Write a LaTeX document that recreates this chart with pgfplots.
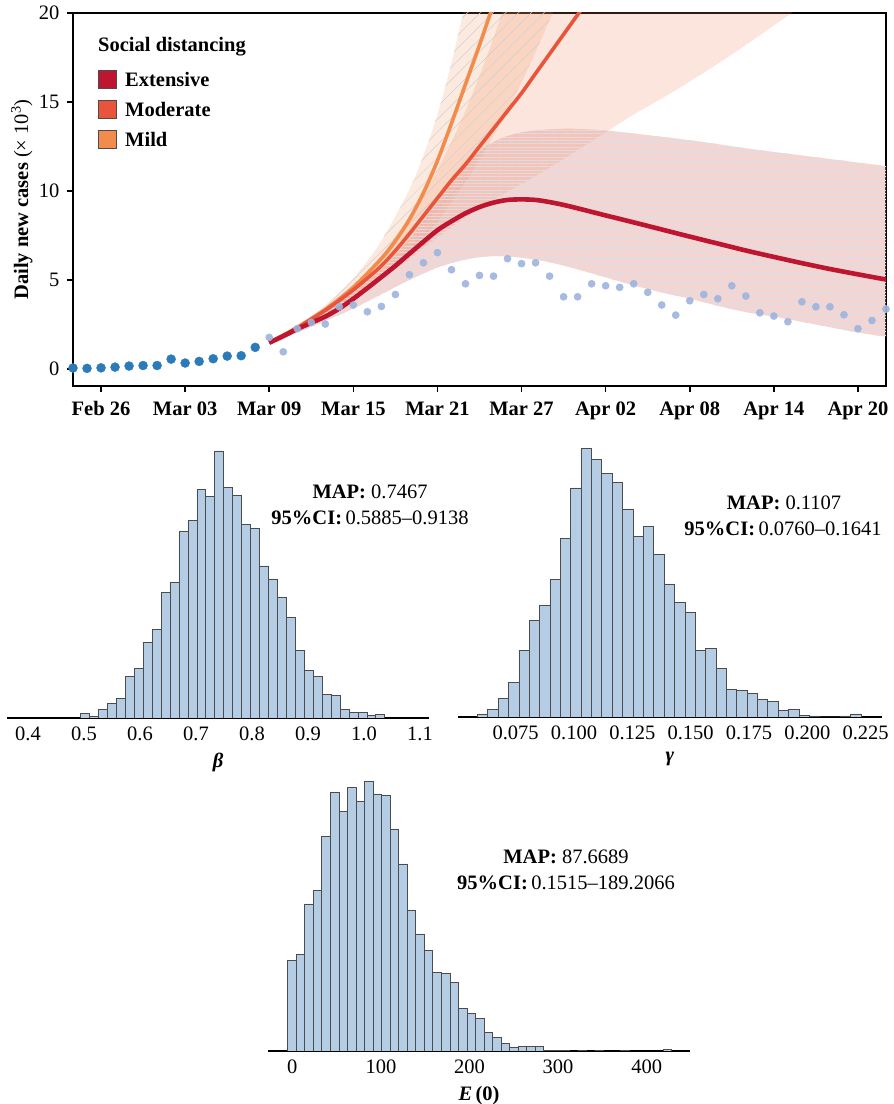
\documentclass[border=0pt]{standalone}
\usepackage{pgfplots}
\pgfplotsset{compat=1.18}
\usepgfplotslibrary{fillbetween}
\usetikzlibrary{patterns.meta}
\usepackage{fontspec}
\setmainfont{Liberation Serif}

\definecolor{cExt}{HTML}{BE1530}
\definecolor{cMod}{HTML}{E8553A}
\definecolor{cMild}{HTML}{F28B4B}
\definecolor{extBand}{HTML}{EE8877}
\definecolor{modBand}{HTML}{F07F52}
\definecolor{mildBand}{HTML}{F28B4B}
\definecolor{dotDark}{HTML}{2B7BBA}
\definecolor{dotLight}{HTML}{9DB4DE}
\definecolor{histFill}{HTML}{B4CDE4}
\definecolor{hatchH}{HTML}{D9DFE8}
\definecolor{hatchD}{HTML}{C9CFD8}

\newcommand\fs{\fontsize{20.5bp}{24bp}\selectfont}

\pgfplotsset{
  sqlegend/.style={legend image code/.code={\filldraw[##1,draw=black!70,line width=1bp] (0bp,-9bp) rectangle (18bp,9bp);}},
  hist/.style={
    scale only axis, anchor=south west, width=422bp, height=273bp,
    ymin=0, ymax=820, hide y axis, axis x line*=bottom,
    axis line style={line width=2bp, black},
    major tick length=0pt,
    /pgf/number format/assume math mode=true,
    tick label style={font=\fs},
    xticklabel style={yshift=-5bp},
    xlabel style={font=\fs, yshift=-6bp},
  },
  histbar/.style={ybar interval, fill=histFill, draw=black!70, line width=0.6bp},
}

\begin{document}
\begin{tikzpicture}

% ---- daily new cases with scenario projections ----
\begin{axis}[
  at={(73bp,718bp)}, anchor=south west,
  scale only axis, width=813bp, height=373bp,
  xmin=-2, xmax=56, ymin=-0.95, ymax=20,
  xtick={0,6,...,54},
  xticklabels={Feb 26,Mar 03,Mar 09,Mar 15,Mar 21,Mar 27,Apr 02,Apr 08,Apr 14,Apr 20},
  ytick={0,5,10,15,20},
  xtick pos=left, ytick pos=left, tick align=outside,
  major tick length=6bp,
  every tick/.style={black, line width=1.5bp},
  axis line style={line width=1.8bp},
  /pgf/number format/assume math mode=true,
  tick label style={font=\fs},
  x tick label style={font=\fs\bfseries, yshift=-6bp},
  y tick label style={xshift=-4bp},
  ylabel={\textbf{Daily new cases} (× 10\textsuperscript{3})},
  ylabel style={at={(axis description cs:-0.063,0.5)}, anchor=center, font=\fs},
  legend style={at={(axis description cs:0.0308,0.847)}, anchor=north west,
    draw=none, fill=none, font=\fs\bfseries, inner sep=0pt,
    nodes={inner sep=1bp}, row sep=11bp,
    /tikz/every odd column/.append style={column sep=7bp}},
  legend cell align=left,
]
% moderate band
\addplot[name path=modlo, draw=none, smooth, forget plot] coordinates {
 (12,1.45) (14,2.15) (16,2.95) (18,3.9) (20,5.0) (22,6.2) (24,7.4) (26,8.5)
 (28,9.5) (30,10.4) (32,11.3) (34,12.3) (36,13.3) (38,14.3) (40,15.2)
 (42,16.15) (44,17.15) (46,18.2) (48,19.3) (50,20.4) (52,21.6)};
\addplot[name path=modhi, draw=none, smooth, forget plot] coordinates {
 (12,1.55) (14,2.4) (16,3.4) (18,4.7) (20,6.4) (22,8.6) (24,11.2) (26,14.5)
 (28,18.6) (29,21.0)};
\addplot[fill=modBand, fill opacity=0.2, draw=none, forget plot] fill between[of=modlo and modhi];

% mild band
\addplot[name path=mildlo, draw=none, smooth, forget plot] coordinates {
 (12,1.42) (14,2.2) (16,3.05) (18,4.0) (20,5.1) (22,6.5) (24,8.3) (26,10.5)
 (28,13.1) (30,16.1) (32,19.6) (33,21.5)};
\addplot[name path=mildhi, draw=none, smooth, forget plot] coordinates {
 (12,1.6) (14,2.45) (16,3.6) (18,5.1) (20,7.2) (22,10.1) (23,12.0) (24,14.3)
 (25,17.2) (26,20.6) (26.5,22.5)};
\addplot[fill=mildBand, fill opacity=0.18, draw=none, forget plot] fill between[of=mildlo and mildhi];
\addplot[pattern={Lines[angle=45,distance=9bp,line width=0.5bp]}, pattern color=hatchD, draw=none, forget plot] fill between[of=mildlo and mildhi];

% extensive band
\addplot[name path=extlo, draw=none, smooth, forget plot] coordinates {
 (12,1.42) (14,2.05) (16,2.7) (18,3.4) (20,4.2) (22,5.0) (24,5.7) (26,6.15)
 (28,6.35) (30,6.25) (32,6.0) (34,5.6) (36,5.15) (38,4.7) (40,4.3) (42,3.95)
 (44,3.55) (46,3.2) (48,2.95) (50,2.65) (52,2.35) (54,2.05) (56,1.82)};
\addplot[name path=exthi, draw=none, smooth, forget plot] coordinates {
 (12,1.55) (14,2.35) (16,3.25) (18,4.3) (20,5.6) (22,7.3) (24,9.4) (26,11.5)
 (28,12.75) (30,13.3) (33,13.5) (36,13.4) (40,13.05) (43,12.75) (46,12.4)
 (50,12.0) (53,11.7) (56,11.4)};
\addplot[fill=extBand, fill opacity=0.36, draw=none, forget plot] fill between[of=extlo and exthi];
\addplot[pattern={Lines[angle=0,distance=3.3bp,line width=0.6bp]}, pattern color=hatchH, draw=none, forget plot] fill between[of=extlo and exthi];

% projections
\addplot[cMild, line width=3.6bp, smooth, forget plot] coordinates {
 (12,1.48) (14,2.35) (16,3.35) (18,4.6) (20,6.2) (21,7.2) (22,8.4) (23,9.9)
 (24,11.7) (25,13.8) (26,16.0) (27,18.2) (28,20.5)};
\addplot[cMod, line width=3.6bp, smooth, forget plot] coordinates {
 (12,1.48) (13,1.88) (14,2.3) (15,2.8) (16,3.3) (17,3.85) (18,4.45) (19,5.1)
 (20,5.8) (21,6.65) (22,7.6) (23,8.6) (24,9.6) (25,10.6) (26,11.5) (27,12.5)
 (28,13.5) (29,14.5) (30,15.5) (31,16.6) (32,17.7) (33,18.8) (34,19.9) (35,21.0)};
\addplot[cExt, line width=4.6bp, smooth, forget plot] coordinates {
 (12,1.48) (13,1.85) (14,2.25) (15,2.6) (16,2.95) (17,3.4) (18,3.95) (19,4.55)
 (20,5.17) (21,5.8) (22,6.48) (23,7.15) (24,7.8) (25,8.3) (26,8.75) (27,9.1)
 (28,9.35) (29,9.5) (30,9.53) (31,9.5) (32,9.38) (33,9.22) (34,9.03) (35,8.83)
 (36,8.63) (38,8.24) (40,7.84) (42,7.44) (44,7.05) (46,6.66) (48,6.3)
 (50,5.95) (52,5.62) (54,5.32) (56,5.03)};

% observed cases
\addplot[only marks, mark=*, mark size=4.5bp, color=dotDark, forget plot] coordinates {
 (-2,0.06) (-1,0.04) (0,0.07) (1,0.11) (2,0.17) (3,0.2) (4,0.2) (5,0.56)
 (6,0.34) (7,0.43) (8,0.58) (9,0.73) (10,0.75) (11,1.22)};
\addplot[only marks, mark=*, mark size=3.6bp, color=dotLight, opacity=0.9, forget plot] coordinates {
 (12,1.78) (13,0.97) (14,2.27) (15,2.62) (16,2.53) (17,3.5) (18,3.6) (19,3.22)
 (20,3.52) (21,4.19) (22,5.3) (23,5.97) (24,6.54) (25,5.58) (26,4.79) (27,5.26)
 (28,5.22) (29,6.2) (30,5.92) (31,5.97) (32,5.22) (33,4.06) (34,4.06) (35,4.79)
 (36,4.68) (37,4.59) (38,4.79) (39,4.31) (40,3.6) (41,3.03) (42,3.84) (43,4.19)
 (44,3.95) (45,4.68) (46,4.1) (47,3.16) (48,2.98) (49,2.66) (50,3.78) (51,3.5)
 (52,3.5) (53,3.05) (54,2.27) (55,2.73) (56,3.37)};

\addlegendimage{sqlegend, fill=cExt}
\addlegendentry{Extensive}
\addlegendimage{sqlegend, fill=cMod}
\addlegendentry{Moderate}
\addlegendimage{sqlegend, fill=cMild}
\addlegendentry{Mild}
\node[anchor=west, inner sep=0pt, font=\fs\bfseries] at (axis description cs:0.0308,0.909) {Social distancing};
\end{axis}

% ---- beta ----
\begin{axis}[hist, at={(7bp,386bp)},
  xmin=0.3625, xmax=1.116,
  xtick={0.4,0.5,0.6,0.7,0.8,0.9,1.0,1.1},
  xticklabel style={/pgf/number format/fixed, /pgf/number format/fixed zerofill, /pgf/number format/precision=1},
  xlabel={\textbf{\textit{β}}},
]
\addplot[histbar] coordinates {
 (0.4937,13) (0.5097,5) (0.5257,27) (0.5416,43) (0.5576,60) (0.5736,126)
 (0.5896,148) (0.6056,226) (0.6215,267) (0.6375,378) (0.6535,408) (0.6695,560)
 (0.6855,593) (0.7014,687) (0.7174,665) (0.7334,802) (0.7494,693) (0.7654,668)
 (0.7813,582) (0.7973,570) (0.8133,457) (0.8293,418) (0.8453,363) (0.8612,303)
 (0.8772,204) (0.8932,143) (0.9092,125) (0.9252,72) (0.9411,69) (0.9571,25)
 (0.9731,18) (0.9891,18) (1.0051,8) (1.0210,11) (1.0370,0)};
\end{axis}

% ---- gamma ----
\begin{axis}[hist, at={(458bp,387bp)}, width=424bp,
  xmin=0.0503, xmax=0.232,
  xtick={0.075,0.1,0.125,0.15,0.175,0.2,0.225},
  xticklabel style={/pgf/number format/fixed, /pgf/number format/fixed zerofill, /pgf/number format/precision=3},
  xlabel={\textbf{\textit{γ}}},
]
\addplot[histbar] coordinates {
 (0.0586,9) (0.0630,24) (0.0675,57) (0.0719,105) (0.0764,199) (0.0808,291)
 (0.0853,335) (0.0897,414) (0.0942,536) (0.0986,688) (0.1030,807) (0.1075,774)
 (0.1119,732) (0.1164,705) (0.1208,625) (0.1253,543) (0.1297,572) (0.1341,489)
 (0.1386,400) (0.1430,344) (0.1475,314) (0.1519,201) (0.1564,207) (0.1608,145)
 (0.1653,84) (0.1697,80) (0.1741,72) (0.1786,53) (0.1830,46) (0.1875,20)
 (0.1919,24) (0.1964,4) (0.2008,3) (0.2052,0) (0.2097,0) (0.2141,3)
 (0.2186,9) (0.2230,0)};
\end{axis}

% ---- E(0) ----
\begin{axis}[hist, at={(268bp,53bp)},
  xmin=-27.4, xmax=448.9,
  xtick={0,100,200,300,400},
  xlabel={\textbf{\textit{E}\,(0)}},
]
\addplot[histbar] coordinates {
 (-5.27,272) (4.37,291) (14.0,442) (23.64,482) (33.27,644) (42.91,777)
 (52.54,719) (62.18,792) (71.81,749) (81.45,810) (91.08,772) (100.72,769)
 (110.35,667) (119.99,562) (129.62,424) (139.26,352) (148.89,301) (158.53,235)
 (168.16,233) (177.80,206) (187.43,128) (197.07,114) (206.70,99) (216.34,55)
 (225.97,40) (235.61,24) (245.24,10) (254.88,13) (264.51,13) (274.15,13)
 (283.78,3) (293.42,3) (303.05,3) (312.69,0) (322.32,3) (331.96,0)
 (341.59,3) (351.23,0) (360.86,0) (370.50,2) (380.13,0) (389.77,0)
 (399.40,0) (409.04,0) (418.67,4) (428.31,0)};
\end{axis}

% summary texts
\node[font=\fs] at (370bp,612bp) {\textbf{MAP:} 0.7467};
\node[font=\fs] at (370bp,586bp) {\textbf{95\%CI:}\,0.5885–0.9138};
\node[font=\fs] at (784bp,601bp) {\textbf{MAP:} 0.1107};
\node[font=\fs] at (783bp,575bp) {\textbf{95\%CI:}\,0.0760–0.1641};
\node[font=\fs] at (566bp,247bp) {\textbf{MAP:} 87.6689};
\node[font=\fs] at (566bp,221bp) {\textbf{95\%CI:}\,0.1515–189.2066};

\pgfresetboundingbox
\path[use as bounding box] (0bp,0bp) rectangle (894bp,1104bp);
\end{tikzpicture}
\end{document}
